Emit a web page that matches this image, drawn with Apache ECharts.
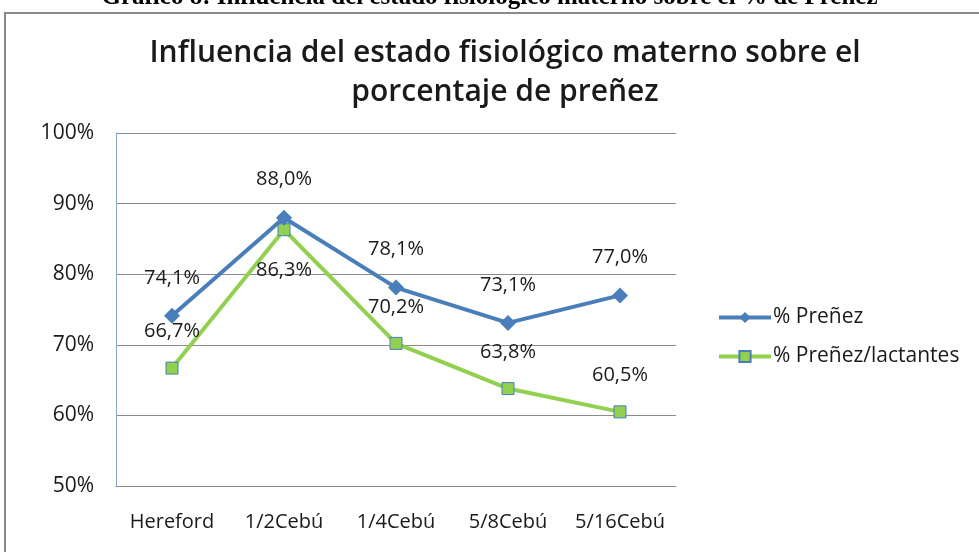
<!DOCTYPE html>
<html>
<head>
<meta charset="utf-8">
<script src="https://cdn.jsdelivr.net/npm/echarts@6/dist/echarts.min.js"></script>
<style>
	html, body { margin: 0; padding: 0; background: #fff; }
	#chart { width: 979px; height: 552px; }
</style>
</head>
<body>
<div id="chart"></div>
<script>
	var categories = ['Hereford', '1/2Cebú', '1/4Cebú', '5/8Cebú', '5/16Cebú'];
	var prenez = [74.1, 88.0, 78.1, 73.1, 77.0];
	var prenezLactantes = [66.7, 86.3, 70.2, 63.8, 60.5];
	var yTicks = [50, 60, 70, 80, 90, 100];

	var font = 'Open Sans';
	function pct(p) {
		return p.value.toFixed(1).replace('.', ',') + '%';
	}

	var chart = echarts.init(document.getElementById('chart'));
	chart.setOption({
		animation: false,
		title: {
			text: 'Influencia del estado fisiológico materno sobre el\nporcentaje de preñez',
			left: 500,
			textAlign: 'center',
			top: 29,
			textStyle: {
				fontFamily: font,
				fontWeight: 600,
				fontSize: 30,
				lineHeight: 39,
				color: '#1a1a1a'
			}
		},
		graphic: [
			{
				type: 'text',
				left: 'center',
				top: -15,
				style: {
					text: 'Gráfico 8: Influencia del estado fisiológico materno sobre el % de Preñez',
					font: 'bold 25px "Liberation Serif"',
					fill: '#000'
				}
			},
			{
				type: 'rect',
				shape: {x: 5, y: 13, width: 1000, height: 600},
				style: {fill: 'none', stroke: '#8a8a8a', lineWidth: 2},
				z: -1
			}
		],
		legend: {
			orient: 'vertical',
			left: 712,
			top: 302,
			itemWidth: 52,
			itemHeight: 14,
			itemGap: 18,
			textStyle: {fontFamily: font, fontSize: 21, color: '#1a1a1a', padding: [0, 0, 0, -3]},
			data: [
				{name: '% Preñez', lineStyle: {width: 4}},
				{name: '% Preñez/lactantes', lineStyle: {width: 4}}
			]
		},
		grid: {
			left: 116,
			right: 303,
			top: 133,
			bottom: 66
		},
		xAxis: {
			type: 'category',
			data: categories,
			boundaryGap: true,
			axisLine: {lineStyle: {color: '#8c8c8c', width: 1}},
			axisTick: {show: false},
			axisLabel: {interval: 0, fontFamily: font, fontSize: 20, color: '#1a1a1a', margin: 26}
		},
		yAxis: {
			type: 'value',
			min: yTicks[0],
			max: yTicks[yTicks.length - 1],
			interval: 10,
			axisLine: {show: true, lineStyle: {color: '#86a6d0', width: 1}},
			axisTick: {show: false},
			splitLine: {lineStyle: {color: '#8c8c8c', width: 1}},
			axisLabel: {fontFamily: font, fontSize: 21, color: '#1a1a1a', margin: 22, formatter: '{value}%'}
		},
		series: [
			{
				name: '% Preñez',
				type: 'line',
				data: prenez,
				symbol: 'diamond',
				symbolSize: 16,
				lineStyle: {color: '#4a7ebb', width: 4},
				itemStyle: {color: '#4a7ebb'},
				label: {
					show: true,
					position: 'top',
					distance: 20,
					fontFamily: font,
					fontSize: 20,
					color: '#1a1a1a',
					formatter: pct
				},
				z: 3
			},
			{
				name: '% Preñez/lactantes',
				type: 'line',
				data: prenezLactantes.map(function (v, i) {
					return i === 1 ? {value: v, label: {position: 'bottom', distance: 24}} : v;
				}),
				symbol: 'rect',
				symbolSize: 12,
				lineStyle: {color: '#92d050', width: 4},
				itemStyle: {color: '#92d050', borderColor: '#4a7ebb', borderWidth: 1},
				label: {
					show: true,
					position: 'top',
					distance: 20,
					fontFamily: font,
					fontSize: 20,
					color: '#1a1a1a',
					formatter: pct
				},
				z: 2
			}
		]
	});
</script>
</body>
</html>
